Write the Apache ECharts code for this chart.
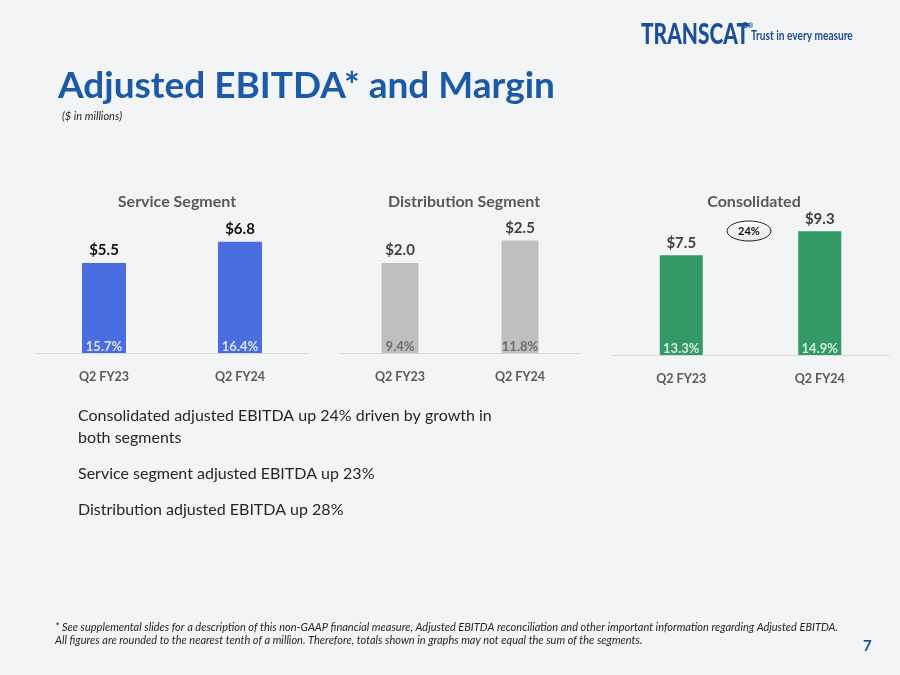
<!DOCTYPE html>
<html>
<head>
<meta charset="utf-8">
<script src="https://cdn.jsdelivr.net/npm/echarts@6/dist/echarts.min.js"></script>
<style>
  html, body { margin: 0; padding: 0; background: #f2f4f5; }
  #chart { width: 900px; height: 675px; }
</style>
</head>
<body>
<div id="chart"></div>
<script>
// Data ($ in millions)
const periods = ['Q2 FY23', 'Q2 FY24'];
const serviceEbitda = [5.5, 6.8];
const serviceMargin = ['15.7%', '16.4%'];
const distEbitda = [2.0, 2.5];
const distMargin = ['9.4%', '11.8%'];
const consEbitda = [7.5, 9.3];
const consMargin = ['13.3%', '14.9%'];
const consGrowth = '24%';

const FONT = 'Lato, "Open Sans", sans-serif';

const chart = echarts.init(document.getElementById('chart'));

// one panel = grid + axes + bar series + margin labels sitting on the baseline
const panels = [
    { title: 'Service Segment', values: serviceEbitda, margins: serviceMargin, color: '#4a6ee0',
      valueColor: '#111', marginColor: '#ffffff', max: 8, grid: { left: 36, width: 272, top: 222, bottom: 322 }, barWidth: 44, cx: 172 },
    { title: 'Distribution Segment', values: distEbitda, margins: distMargin, color: '#bfbfbf',
      valueColor: '#404040', marginColor: '#595959', max: 3, grid: { left: 340, width: 240, top: 218, bottom: 322 }, barWidth: 37, cx: 459 },
    { title: 'Consolidated', values: consEbitda, margins: consMargin, color: '#339966',
      valueColor: '#404040', marginColor: '#ffffff', max: 10, grid: { left: 612, width: 277, top: 222, bottom: 320 }, barWidth: 43, cx: 749 }
];

const grids = [], xAxes = [], yAxes = [], series = [], titles = [];

panels.forEach((p, i) => {
    grids.push(p.grid);
    xAxes.push({
        type: 'category',
        gridIndex: i,
        data: periods,
        axisLine: { lineStyle: { color: '#d9d9d9', width: 1 } },
        axisTick: { show: false },
        axisLabel: { color: '#595959', fontFamily: FONT, fontWeight: 'bold', fontSize: 12.5, margin: 17 }
    });
    yAxes.push({
        type: 'value',
        gridIndex: i,
        min: 0,
        max: p.max,
        show: false
    });
    series.push({
        type: 'bar',
        xAxisIndex: i,
        yAxisIndex: i,
        data: p.values,
        barWidth: p.barWidth,
        itemStyle: { color: p.color },
        label: {
            show: true,
            position: 'top',
            distance: 5,
            color: p.valueColor,
            fontFamily: FONT,
            fontWeight: 'bold',
            fontSize: 15,
            formatter: v => '$' + v.value.toFixed(1)
        }
    });
    series.push({
        type: 'scatter',
        xAxisIndex: i,
        yAxisIndex: i,
        symbolSize: 0,
        silent: true,
        z: 5,
        data: periods.map((c, k) => [k, 0]),
        label: {
            show: true,
            position: 'top',
            distance: 0,
            color: p.marginColor,
            fontFamily: FONT,
            fontWeight: 'bold',
            fontSize: 13,
            formatter: v => p.margins[v.dataIndex]
        }
    });
    titles.push({
        text: p.title,
        left: p.cx,
        top: 189,
        textAlign: 'center',
        textStyle: { color: '#595959', fontFamily: FONT, fontWeight: 'bold', fontSize: 16 }
    });
});

titles.push({
    text: 'Adjusted EBITDA* and Margin',
    left: 53,
    top: 63,
    textStyle: { color: '#1b5aa6', fontFamily: FONT, fontWeight: 'bold', fontSize: 37 }
});

const bodyLine = (text, y) => ({
    type: 'text', left: 78, top: y,
    style: { text: text, fill: '#262626', font: '16px ' + FONT }
});

const footStyle = { fill: '#262626', font: 'italic 11px ' + FONT };

const option = {
    backgroundColor: '#f2f4f5',
    animation: false,
    title: titles,
    grid: grids,
    xAxis: xAxes,
    yAxis: yAxes,
    series: series,
    graphic: [
        // logo
        { type: 'text', x: 641, y: 20, scaleX: 0.72,
          style: { text: 'TRANSCAT', fill: '#1b4f9c', font: '900 29px ' + FONT } },
        { type: 'text', x: 743, y: 22,
          style: { text: 'В®', fill: '#1b4f9c', font: 'bold 7px ' + FONT } },
        { type: 'text', x: 751, y: 29, scaleX: 0.78,
          style: { text: 'Trust in every measure', fill: '#1b4f9c', font: 'bold 13px ' + FONT } },
        // subtitle
        { type: 'text', left: 62, top: 111,
          style: { text: '($ in millions)', fill: '#262626', font: 'italic 11px ' + FONT } },
        // growth bubble on consolidated
        { type: 'ellipse', shape: { cx: 749, cy: 231, rx: 22, ry: 10 }, z: 10,
          style: {
              stroke: '#222', lineWidth: 1,
              fill: new echarts.graphic.LinearGradient(0, 0, 0, 1, [
                  { offset: 0, color: '#ffffff' }, { offset: 1, color: '#e6e6e6' }
              ])
          } },
        { type: 'text', x: 749, y: 231, z: 11,
          style: { text: consGrowth, align: 'center', verticalAlign: 'middle',
                   fill: '#111', font: 'bold 11px ' + FONT } },
        // body text
        bodyLine('Consolidated adjusted EBITDA up 24% driven by growth in', 408),
        bodyLine('both segments', 430),
        bodyLine('Service segment adjusted EBITDA up 23%', 466),
        bodyLine('Distribution adjusted EBITDA up 28%', 502),
        // footnote
        { type: 'text', left: 55, top: 622,
          style: Object.assign({ text: '* See supplemental slides for a description of this non-GAAP financial measure, Adjusted EBITDA reconciliation and other important information regarding Adjusted EBITDA.' }, footStyle) },
        { type: 'text', left: 55, top: 635,
          style: Object.assign({ text: 'All figures are rounded to the nearest tenth of a million. Therefore, totals shown in graphs may not equal the sum of the segments.' }, footStyle) },
        { type: 'text', left: 863, top: 639,
          style: { text: '7', fill: '#1b4f9c', font: 'bold 15px ' + FONT } }
    ]
};

chart.setOption(option);
</script>
</body>
</html>
